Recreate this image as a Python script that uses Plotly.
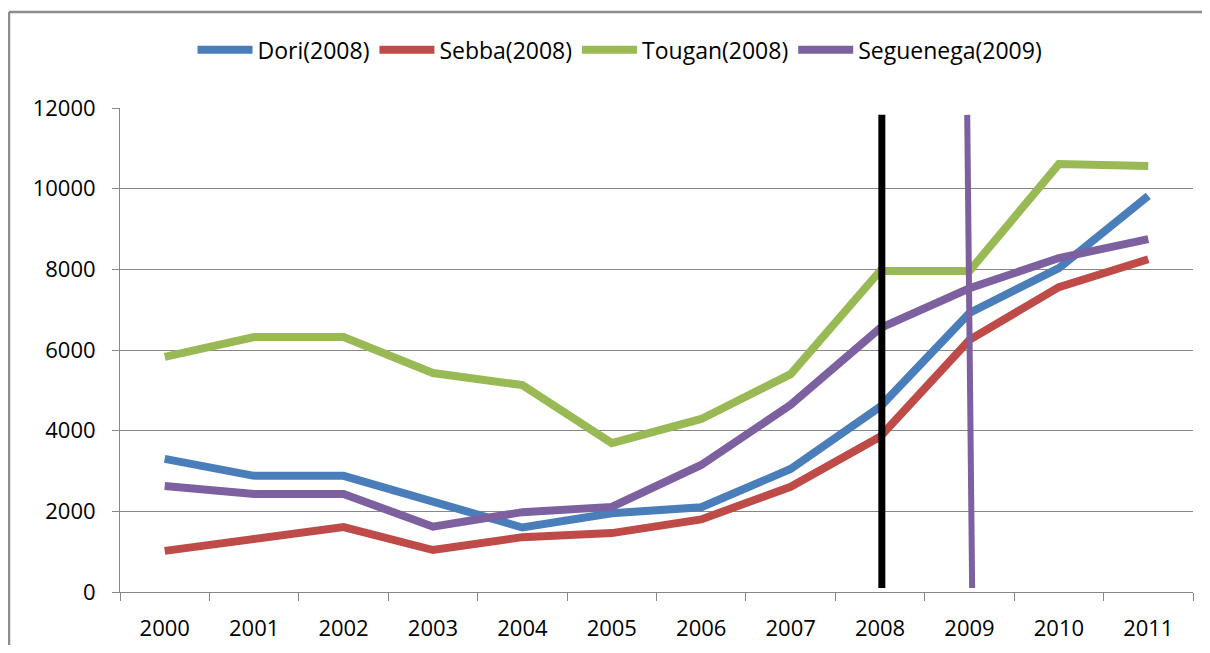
import plotly.graph_objects as go

# category axis: years
years = [2000, 2001, 2002, 2003, 2004, 2005, 2006, 2007, 2008, 2009, 2010, 2011]

# series values
dori = [3300, 2880, 2880, 2220, 1600, 1950, 2100, 3050, 4590, 6920, 8030, 9820]
sebba = [1020, 1330, 1610, 1040, 1360, 1460, 1800, 2610, 3850, 6250, 7560, 8250]
tougan = [5830, 6320, 6320, 5430, 5130, 3690, 4290, 5400, 7960, 7960, 10610, 10560]
seguenega = [2630, 2430, 2430, 1620, 1980, 2110, 3150, 4640, 6540, 7530, 8280, 8750]

# hand-drawn marker lines (x in years, y in data units)
mark_2008_x = [2008.02, 2008.02]
mark_2008_y = [100, 11830]
mark_2009_x = [2008.975, 2009.03]
mark_2009_y = [11830, 100]

y_ticks = [0, 2000, 4000, 6000, 8000, 10000, 12000]

PALETTE = {
    "dori": "#4A7EBB",
    "sebba": "#BE4B48",
    "tougan": "#98B954",
    "seguenega": "#7D60A0",
    "grid": "#878787",
    "frame": "#8C8C8C",
}

FONT = "Open Sans, Noto Sans, sans-serif"

fig = go.Figure()

for name, vals, key in [
    ("Dori(2008)", dori, "dori"),
    ("Sebba(2008)", sebba, "sebba"),
    ("Tougan(2008)", tougan, "tougan"),
    ("Seguenega(2009)", seguenega, "seguenega"),
]:
    fig.add_trace(
        go.Scatter(
            x=years,
            y=vals,
            name=name,
            mode="lines",
            line=dict(color=PALETTE[key], width=8),
        )
    )

fig.add_trace(
    go.Scatter(
        x=mark_2008_x, y=mark_2008_y, mode="lines",
        line=dict(color="#000000", width=7), showlegend=False,
    )
)
fig.add_trace(
    go.Scatter(
        x=mark_2009_x, y=mark_2009_y, mode="lines",
        line=dict(color=PALETTE["seguenega"], width=6), showlegend=False,
    )
)

# outer chart frame: only the top and left edges fall inside the picture
frame_x0 = -111 / 1073
frame_y1 = 580 / 484
fig.add_shape(
    type="line", xref="paper", yref="paper",
    x0=frame_x0, x1=1.2, y0=frame_y1, y1=frame_y1,
    line=dict(color=PALETTE["frame"], width=2.5), layer="below",
)
fig.add_shape(
    type="line", xref="paper", yref="paper",
    x0=frame_x0, x1=frame_x0, y0=-0.3, y1=frame_y1,
    line=dict(color=PALETTE["frame"], width=2.5), layer="below",
)

# page body has an 8px offset; size and margins keep the page from overflowing
fig.update_layout(
    width=1194,
    height=637,
    margin=dict(l=112, r=9, t=100, b=53),
    paper_bgcolor="white",
    plot_bgcolor="white",
    font=dict(family=FONT, size=22, color="#000000"),
    showlegend=True,
    legend=dict(
        orientation="h",
        x=0.466, xanchor="center",
        y=1.12, yanchor="middle",
        font=dict(family=FONT, size=23),
        itemwidth=55,
        tracegroupgap=0,
    ),
)

fig.update_xaxes(
    range=[1999.5, 2011.5],
    tickvals=years,
    ticktext=[str(y) for y in years],
    ticks="",
    showgrid=False,
    showline=True,
    linecolor=PALETTE["grid"],
    linewidth=1,
    zeroline=False,
    automargin=False,
    ticklabelstandoff=17,
    minor=dict(
        tickmode="linear", tick0=1999.5, dtick=1,
        ticks="outside", ticklen=8, tickcolor=PALETTE["grid"], showgrid=False,
    ),
    tickfont=dict(family=FONT, size=22),
)
fig.update_yaxes(
    range=[0, 12000],
    tickvals=y_ticks,
    ticktext=[str(v) for v in y_ticks],
    ticks="outside",
    ticklen=7,
    tickcolor=PALETTE["grid"],
    showgrid=True,
    gridcolor=PALETTE["grid"],
    gridwidth=1,
    showline=True,
    linecolor=PALETTE["grid"],
    linewidth=1,
    zeroline=False,
    automargin=False,
    ticklabelstandoff=12,
    tickfont=dict(family=FONT, size=22),
)

fig.write_html("out.html")
